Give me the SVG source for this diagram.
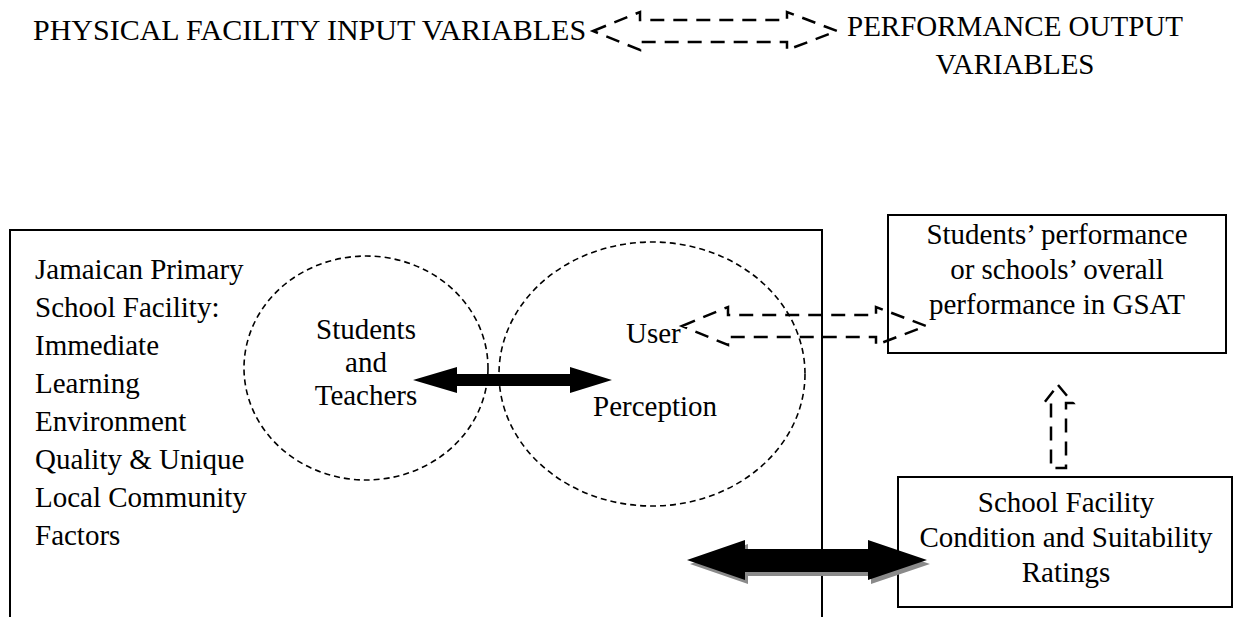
<svg xmlns="http://www.w3.org/2000/svg" width="1235" height="617" viewBox="0 0 1235 617">
<style>
text{font-family:"Liberation Serif","Times New Roman",serif;font-size:29px;fill:#000}
.c{text-anchor:middle}
.box{fill:#fff;stroke:#000;stroke-width:2}
.line{fill:none;stroke:#000;stroke-width:2}
.circ{fill:none;stroke:#000;stroke-width:1.6;stroke-dasharray:6 4}
.darr{fill:none;stroke:#000;stroke-width:2.5;stroke-dasharray:14 9}
.barr{fill:#000;stroke:none}
.shadow{fill:#8a8a8a;stroke:none}
</style>
<rect width="1235" height="617" fill="#fff"/>
<g id="title-left"><text x="33" y="40" style="font-size:30px">PHYSICAL FACILITY INPUT VARIABLES</text></g>
<g id="title-right"><text class="c" x="1015" y="36">PERFORMANCE OUTPUT</text><text class="c" x="1015" y="74">VARIABLES</text></g>
<g id="facility-box">
<path class="line" d="M10,617 V230 H822 V617"/>
<text x="35" y="279">Jamaican Primary</text>
<text x="35" y="317">School Facility:</text>
<text x="35" y="355">Immediate</text>
<text x="35" y="393">Learning</text>
<text x="35" y="431">Environment</text>
<text x="35" y="469">Quality &amp; Unique</text>
<text x="35" y="507">Local Community</text>
<text x="35" y="545">Factors</text>
</g>
<g id="students-teachers">
<ellipse class="circ" cx="366" cy="368" rx="122" ry="112"/>
<text class="c" x="366" y="339">Students</text>
<text class="c" x="366" y="372">and</text>
<text class="c" x="366" y="405">Teachers</text>
</g>
<g id="user-perception">
<ellipse class="circ" cx="652" cy="374" rx="153" ry="132"/>
<text x="626" y="343">User</text>
<text x="593" y="416">Perception</text>
</g>
<g id="performance-box">
<rect class="box" x="888" y="215" width="338" height="138"/>
<text class="c" x="1057" y="244">Students’ performance</text>
<text class="c" x="1057" y="279">or schools’ overall</text>
<text class="c" x="1057" y="314">performance in GSAT</text>
</g>
<g id="ratings-box">
<rect class="box" x="898" y="477" width="334" height="130"/>
<text class="c" x="1066" y="512">School Facility</text>
<text class="c" x="1066" y="547">Condition and Suitability</text>
<text class="c" x="1066" y="582">Ratings</text>
</g>
<g id="connectors">
<polygon class="darr" points="593,31 640,12 640,20 787,20 787,12 837,31 787,50 787,42 640,42 640,50"/>
<polygon class="darr" points="682,326 728,307 728,315 876,315 876,307 926,326 876,345 876,337 728,337 728,345"/>
<polygon class="darr" points="1058,385 1073,403 1066,403 1066,468 1051,468 1051,403 1044,403"/>
<polygon class="barr" points="413,380 457,367 457,374 570,374 570,367 612,380 570,393 570,386 457,386 457,393"/>
<polygon class="shadow" points="690,564 748,544 748,553 871,553 871,544 930,564 871,584 871,576 748,576 748,584"/>
<polygon class="barr" points="687,560 745,540 745,549 868,549 868,540 927,560 868,580 868,572 745,572 745,580"/>
</g>
</svg>
